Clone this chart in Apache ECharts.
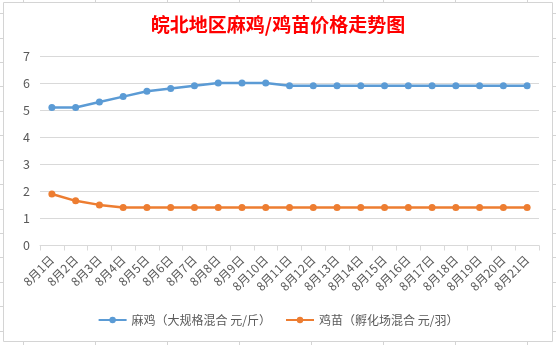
<!DOCTYPE html>
<html>
<head>
<meta charset="utf-8">
<script src="https://cdn.jsdelivr.net/npm/echarts@6/dist/echarts.min.js"></script>
<style>html,body{margin:0;padding:0;background:#fff;}#c{width:556px;height:345px;}</style>
</head>
<body>
<div id="c"></div>
<script>
var categories = ['8月1日','8月2日','8月3日','8月4日','8月5日','8月6日','8月7日','8月8日','8月9日','8月10日','8月11日','8月12日','8月13日','8月14日','8月15日','8月16日','8月17日','8月18日','8月19日','8月20日','8月21日'];
var chickenPrice = [5.1,5.1,5.3,5.5,5.7,5.8,5.9,6.0,6.0,6.0,5.9,5.9,5.9,5.9,5.9,5.9,5.9,5.9,5.9,5.9,5.9];
var chickPrice = [1.9,1.65,1.5,1.4,1.4,1.4,1.4,1.4,1.4,1.4,1.4,1.4,1.4,1.4,1.4,1.4,1.4,1.4,1.4,1.4,1.4];
var seriesNames = ['麻鸡（大规格混合 元/斤）','鸡苗（孵化场混合 元/羽）'];
var titleText = '皖北地区麻鸡/鸡苗价格走势图';

var font = '"Noto Sans CJK SC", "Noto Sans", sans-serif';
var gridColor = '#d9d9d9';
var cellColor = '#d4d4d4';

// spreadsheet cell gridline stubs outside the chart frame
var deco = [];
var colXs = [23.5,95.5,167.5,239.5,311.5,383.5,455.5,527.5];
colXs.forEach(function(x){
  deco.push({type:'line',shape:{x1:x,y1:0,x2:x,y2:2.5},style:{stroke:cellColor,lineWidth:1},silent:true});
  deco.push({type:'line',shape:{x1:x,y1:342,x2:x,y2:345},style:{stroke:cellColor,lineWidth:1},silent:true});
});
for (var k=0;k<14;k++){
  var y = Math.round(13.3 + 24.4*k) + 0.5;
  deco.push({type:'line',shape:{x1:0,y1:y,x2:3,y2:y},style:{stroke:cellColor,lineWidth:1},silent:true});
  deco.push({type:'line',shape:{x1:553,y1:y,x2:556,y2:y},style:{stroke:cellColor,lineWidth:1},silent:true});
}
deco.push({type:'rect',shape:{x:3.5,y:2.5,width:549,height:339},style:{fill:null,stroke:cellColor,lineWidth:1},silent:true});

var chart = echarts.init(document.getElementById('c'), null, {renderer:'canvas'});
chart.setOption({
  animation:false,
  backgroundColor:'#fff',
  graphic: deco,
  title:{
    text:titleText,
    left:'center',
    top:10,
    textStyle:{color:'#ff0000',fontSize:19,fontWeight:'bold',fontFamily:font}
  },
  legend:{
    bottom:14,
    left:'center',
    itemWidth:28,
    itemHeight:8,
    itemGap:14,
    textStyle:{color:'#595959',fontSize:12,fontFamily:font},
    data:seriesNames
  },
  grid:{left:40,right:17,top:56,bottom:99.5,containLabel:false},
  xAxis:{
    type:'category',
    data:categories,
    boundaryGap:true,
    axisLine:{lineStyle:{color:gridColor,width:1}},
    axisTick:{show:true,alignWithLabel:false,length:5,lineStyle:{color:gridColor}},
    axisLabel:{interval:0,rotate:45,color:'#595959',fontSize:12,fontFamily:font,margin:12}
  },
  yAxis:{
    type:'value',
    min:0,max:7,interval:1,
    axisLine:{show:false},
    axisTick:{show:false},
    splitLine:{lineStyle:{color:gridColor,width:1}},
    axisLabel:{color:'#595959',fontSize:12.5,fontFamily:font,margin:10}
  },
  series:[
    {name:seriesNames[0],type:'line',data:chickenPrice,symbol:'circle',symbolSize:7,
     itemStyle:{color:'#5b9bd5'},lineStyle:{color:'#5b9bd5',width:2.5}},
    {name:seriesNames[1],type:'line',data:chickPrice,symbol:'circle',symbolSize:7,
     itemStyle:{color:'#ed7d31'},lineStyle:{color:'#ed7d31',width:2.5}}
  ]
});
</script>
</body>
</html>
